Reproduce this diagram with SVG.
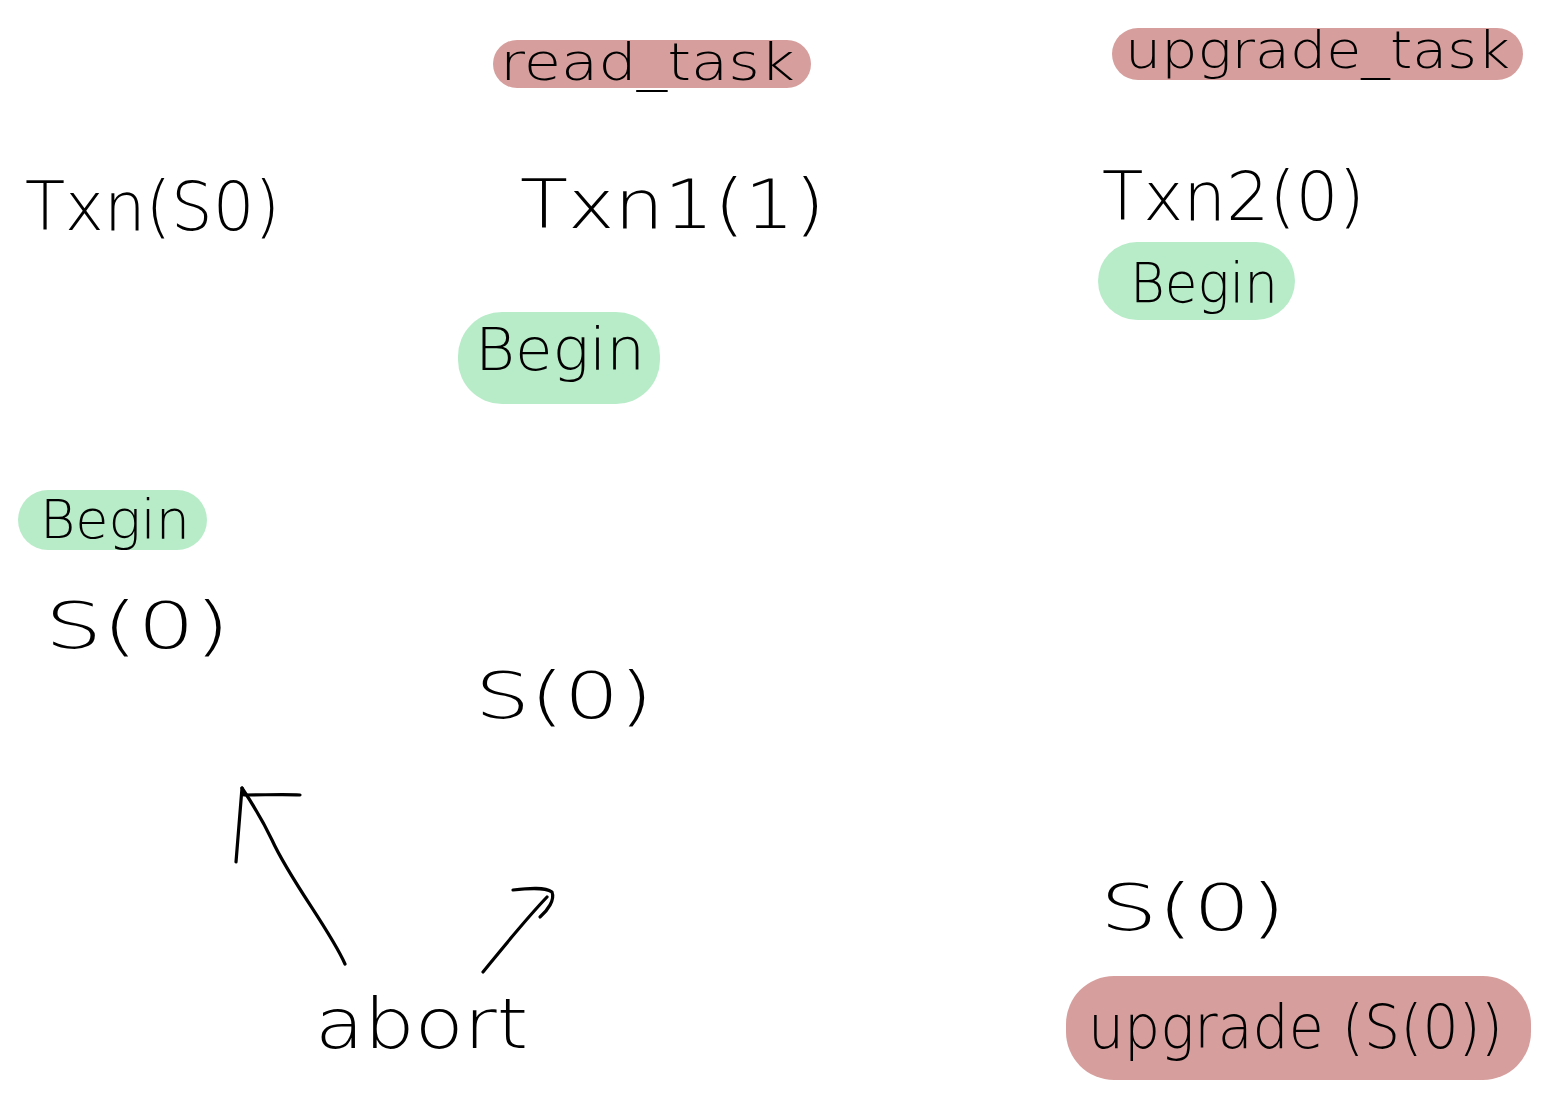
<svg xmlns="http://www.w3.org/2000/svg" width="1541" height="1102" viewBox="0 0 1541 1102">
<style>
.t{font-family:"DejaVu Sans","Liberation Sans",sans-serif;fill:#000;font-weight:300}
.red{fill:#d69f9d}
.green{fill:#b8ecc9}
.conn{fill:none;stroke:#000;stroke-width:3.2;stroke-linecap:round;stroke-linejoin:round}
</style>
<rect width="1541" height="1102" fill="#fff"/>
<g id="read_task">
<rect class="red" x="493" y="40" width="318" height="48" rx="24"/>
<text class="t" x="500" y="80" font-size="52" textLength="295" lengthAdjust="spacingAndGlyphs">read_task</text>
</g>
<g id="upgrade_task">
<rect class="red" x="1112" y="28" width="411" height="52" rx="26"/>
<text class="t" x="1125" y="68" font-size="52" textLength="385" lengthAdjust="spacingAndGlyphs">upgrade_task</text>
</g>
<g id="txn0">
<text class="t" x="25" y="230" font-size="68" textLength="255" lengthAdjust="spacingAndGlyphs">Txn(S0)</text>
</g>
<g id="txn1">
<text class="t" x="520" y="228" font-size="68" textLength="305" lengthAdjust="spacingAndGlyphs">Txn1(1)</text>
</g>
<g id="txn2">
<text class="t" x="1102" y="220" font-size="68" textLength="263" lengthAdjust="spacingAndGlyphs">Txn2(0)</text>
</g>
<g id="begin_right">
<rect class="green" x="1098" y="242" width="197" height="78" rx="39"/>
<text class="t" x="1130" y="302" font-size="56" textLength="148" lengthAdjust="spacingAndGlyphs">Begin</text>
</g>
<g id="begin_mid">
<rect class="green" x="458" y="312" width="202" height="92" rx="44"/>
<text class="t" x="475" y="370" font-size="58" textLength="170" lengthAdjust="spacingAndGlyphs">Begin</text>
</g>
<g id="begin_left">
<rect class="green" x="18" y="490" width="189" height="60" rx="30"/>
<text class="t" x="40" y="538" font-size="54" textLength="150" lengthAdjust="spacingAndGlyphs">Begin</text>
</g>
<g id="s0_left">
<text class="t" x="45" y="648" font-size="64" textLength="185" lengthAdjust="spacingAndGlyphs">S(0)</text>
</g>
<g id="s0_mid">
<text class="t" x="475" y="718" font-size="64" textLength="178" lengthAdjust="spacingAndGlyphs">S(0)</text>
</g>
<g id="s0_right">
<text class="t" x="1100" y="930" font-size="64" textLength="186" lengthAdjust="spacingAndGlyphs">S(0)</text>
</g>
<g id="upgrade_s0">
<rect class="red" x="1066" y="976" width="465" height="104" rx="48"/>
<text class="t" x="1088" y="1048" font-size="60" textLength="415" lengthAdjust="spacingAndGlyphs">upgrade (S(0))</text>
</g>
<g id="abort">
<text class="t" x="315" y="1048" font-size="70" textLength="213" lengthAdjust="spacingAndGlyphs">abort</text>
</g>
<g id="connectors">
<path class="conn" d="M345 964 C330 930 290 880 272 840 C260 815 250 800 242 788"/>
<path class="conn" d="M236 862 C238 835 240 810 242 788 L244 795 C265 795 285 794 300 795"/>
<path class="conn" d="M483 972 C505 945 525 920 547 897"/>
<path class="conn" d="M513 890 C530 888 545 887 552 892 C555 900 548 910 540 917"/>
</g>
</svg>
